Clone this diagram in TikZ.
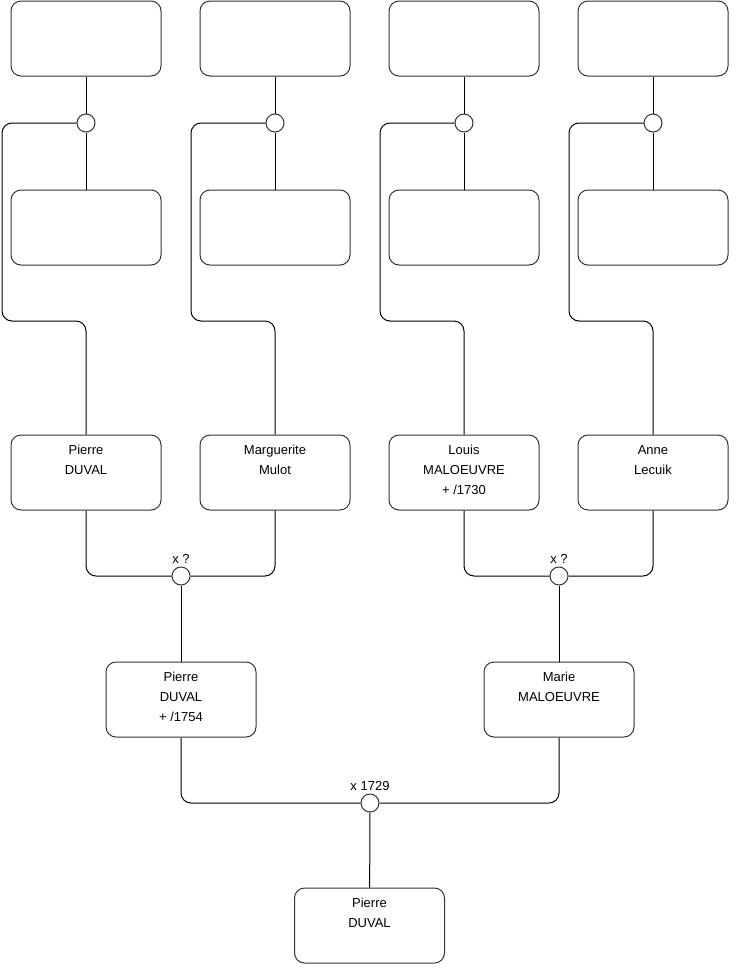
\documentclass[tikz,border=0pt]{standalone}
\usepackage{fontspec}
\setmainfont{Liberation Sans}
\usepackage{tikz}
\usetikzlibrary{positioning,calc}

\begin{document}
\begin{tikzpicture}[
    x=1pt, y=-1pt,
    person/.style={rectangle, draw=black!80, line width=1pt, rounded corners=10pt,
        minimum width=150pt, minimum height=75pt, align=center, text depth=5pt,
        font=\fontsize{13}{20}\selectfont},
    union/.style={circle, draw=black!80, line width=1pt, fill=white,
        minimum size=18pt, inner sep=0pt},
    wedding/.style={font=\fontsize{13}{15}\selectfont, inner sep=1pt},
    link/.style={draw=black, line width=1pt, rounded corners=10pt}
]
    \useasboundingbox (0,0) rectangle (740,975);

    % Top: unknown ancestors
    \node[person] (a1) at (86,38.5) {};
    \node[person] (a2) at (275,38.5) {};
    \node[person] (a3) at (464,38.5) {};
    \node[person] (a4) at (653,38.5) {};

    % Their partners
    \node[person] (b1) at (86,227.5) {};
    \node[person] (b2) at (275,227.5) {};
    \node[person] (b3) at (464,227.5) {};
    \node[person] (b4) at (653,227.5) {};

    % Unions of the top couples
    \node[union] (u1) at (86,123) {};
    \node[union] (u2) at (275,123) {};
    \node[union] (u3) at (464,123) {};
    \node[union] (u4) at (653,123) {};

    % Grandparents
    \node[person] (pierre) at (86,472.5) {Pierre\\DUVAL\\~};
    \node[person] (marguerite) at (275,472.5) {Marguerite\\Mulot\\~};
    \node[person] (louis) at (464,472.5) {Louis\\MALOEUVRE\\+ /1730};
    \node[person] (anne) at (653,472.5) {Anne\\Lecuik\\~};

    % Marriages of the grandparents
    \node[union, label={[wedding, label distance=2pt]above:x ?}] (m1) at (181,576) {};
    \node[union, label={[wedding, label distance=2pt]above:x ?}] (m2) at (559,576) {};

    % Parents
    \node[person] (pierrej) at (181,699.5) {Pierre\\DUVAL\\+ /1754};
    \node[person] (marie) at (559,699.5) {Marie\\MALOEUVRE\\~};

    % Marriage of the parents
    \node[union, label={[wedding, label distance=2pt]above:x 1729}] (m3) at (370,803) {};

    % Child
    \node[person] (pierrek) at (369.5,925.5) {Pierre\\DUVAL\\~};

    % Top couples
    \draw[link] (a1) -- (u1);
    \draw[link] (u1) -- (b1);
    \draw[link] (a2) -- (u2);
    \draw[link] (u2) -- (b2);
    \draw[link] (a3) -- (u3);
    \draw[link] (u3) -- (b3);
    \draw[link] (a4) -- (u4);
    \draw[link] (u4) -- (b4);

    % Descent to the grandparents
    \draw[link] (u1) -| (2,321) -| (pierre);
    \draw[link] (u2) -| (191,321) -| (marguerite);
    \draw[link] (u3) -| (380,321) -| (louis);
    \draw[link] (u4) -| (569,321) -| (anne);

    % Grandparents to parents
    \draw[link] (pierre) |- (m1);
    \draw[link] (marguerite) |- (m1);
    \draw[link] (m1) -- (pierrej);
    \draw[link] (louis) |- (m2);
    \draw[link] (anne) |- (m2);
    \draw[link] (m2) -- (marie);

    % Parents to child
    \draw[link] (pierrej) |- (m3);
    \draw[link] (marie) |- (m3);
    \draw[link] (m3) -- (pierrek);
\end{tikzpicture}
\end{document}
